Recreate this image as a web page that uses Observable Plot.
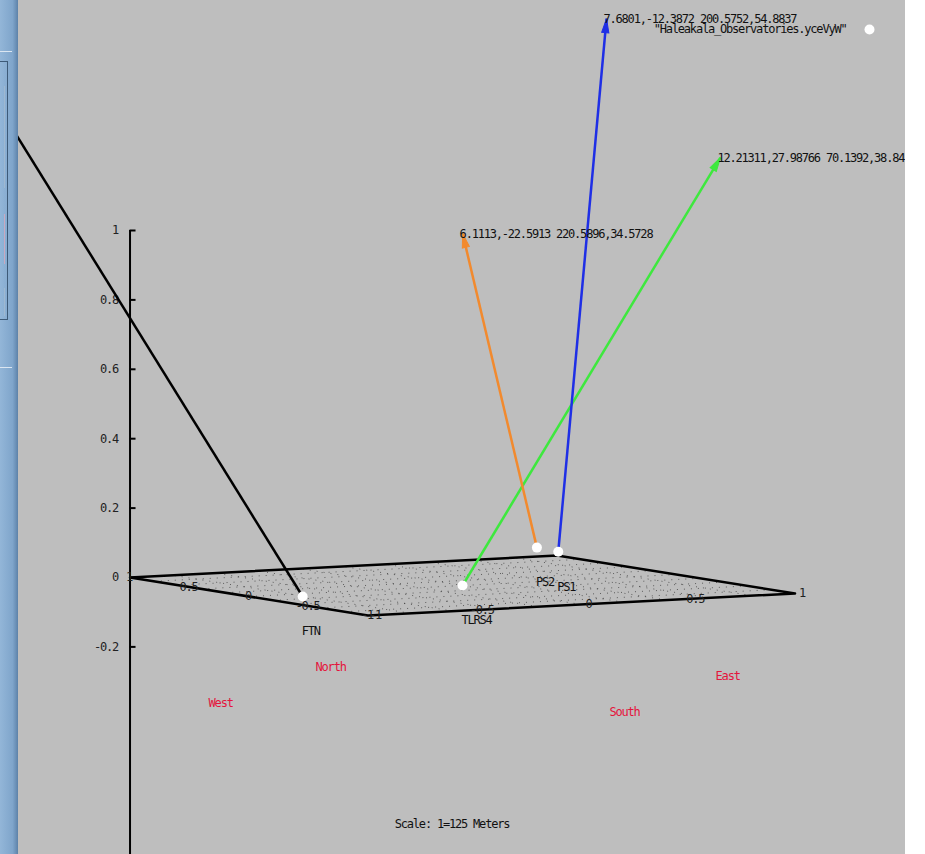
<!DOCTYPE html>
<html>
<head>
<meta charset="utf-8">
<script src="https://cdn.jsdelivr.net/npm/d3@7"></script>
<script src="https://cdn.jsdelivr.net/npm/@observablehq/plot@0.6"></script>
<style>
html, body { margin: 0; padding: 0; background: #ffffff; }
#wrap { display: flex; width: 925px; height: 854px; overflow: hidden; }
#left { width: 18px; height: 854px; position: relative; flex: none;
  background: linear-gradient(to right, #93b6d8 0%, #7fa5cb 70%, #5d82a9 100%); }
#left div { position: absolute; }
#plot { width: 887px; height: 854px; overflow: hidden; flex: none; }
#right { width: 20px; height: 854px; background: #ffffff; flex: none; }
#plot svg text { letter-spacing: -1.2px; }
</style>
</head>
<body>
<div id="wrap">
  <div id="left">
    <div style="left:0;top:51px;width:12px;height:1px;background:#dbe6f1"></div>
    <div style="left:0;top:61px;width:7px;height:257px;border:1px solid #3d5a78;border-left:none"></div>
    <div style="left:0;top:86px;width:4px;height:102px;border-right:1px solid #9fb8d0"></div>
    <div style="left:0;top:214px;width:4px;height:50px;border-right:1px solid #c9a9c0"></div>
    <div style="left:0;top:288px;width:4px;height:28px;border-right:1px solid #9fb8d0"></div>
    <div style="left:0;top:367px;width:12px;height:1px;background:#dbe6f1"></div>
  </div>
  <div id="plot"></div>
  <div id="right"></div>
</div>
<script>
// ---------- data ----------
// site positions on the 3D plot (x, y in plane units, z height)
const siteNames = ["FTN", "TLRS4", "PS2", "PS1"];
const siteX = [-0.81, 0.0, 0.85, 0.95];
const siteY = [-0.11, 0.0, 0.9, 0.9];
const siteZ = [0.0, 0.0, 0.033, 0.018];

// pointing vectors from each site (tip in 3D)
const vecSites = ["FTN", "TLRS4", "PS2", "PS1"];
const vecTipX = [-2.46, 1.208, 0.502, 1.176];
const vecTipY = [-0.11, 0.0, 0.9, 0.9];
const vecTipZ = [1.689, 1.195, 0.949, 1.547];
const vecLabels = ["", "12.21311,27.98766 70.1392,38.84", "6.1113,-22.5913 220.5896,34.5728", "7.6801,-12.3872 200.5752,54.8837"];

// compass labels (3D positions)
const dirNames = ["West", "North", "South", "East"];
const dirX = [-0.632, -0.131, 0.131, 0.628];
const dirY = [1, 1, -1, -1];
const dirZ = [-0.375, -0.287, -0.315, -0.227];

// axes ticks
const zTicks = [1, 0.8, 0.6, 0.4, 0.2, 0, -0.2];
const yEdgeTicks = [1, 0.5, 0, -0.5, -1];
const xEdgeTicks = [-1, -0.5, 0, 0.5, 1];
const gridSteps = [-0.8, -0.6, -0.4, -0.2, 0, 0.2, 0.4, 0.6, 0.8];

const legendLabel = "\"Haleakala_Observatories.yceVyW\"";
const scaleNote = "Scale: 1=125 Meters";

// ---------- projection (view of the 3D box) ----------
const proj = (x, y, z) => ({
  h: 0.9568 + 0.6153 * x - 0.3429 * y,
  v: z - 0.0231 + 0.0317 * x + 0.0548 * y
});

const W = 887, H = 854;
const xDomain = [-0.3228, 2.2334];
const yDomain = [-0.7983, 1.6628];
const pxPerUnit = W / (xDomain[1] - xDomain[0]);

const colors = {FTN: "#000000", TLRS4: "#3ee83e", PS2: "#f28a2e", PS1: "#1f2fe6"};

const sites = siteNames.map((n, i) => ({name: n, ...proj(siteX[i], siteY[i], siteZ[i])}));
const siteBy = Object.fromEntries(sites.map(d => [d.name, d]));
const vecs = vecSites.map((s, i) => {
  const t = proj(vecTipX[i], vecTipY[i], vecTipZ[i]);
  const h1 = siteBy[s].h, v1 = siteBy[s].v;
  // x and y scales share the same pixels-per-unit, so the angle carries over
  const angle = Math.atan2(t.h - h1, t.v - v1) * 180 / Math.PI;
  return {site: s, h1, v1, h2: t.h, v2: t.v, angle, label: vecLabels[i]};
});
const dirs = dirNames.map((n, i) => ({name: n, ...proj(dirX[i], dirY[i], dirZ[i])}));

const corners = [[-1, 1], [1, 1], [1, -1], [-1, -1], [-1, 1]].map(([x, y]) => proj(x, y, 0));
const grid = [];
for (const g of gridSteps) {
  const a = proj(g, -1, 0), b = proj(g, 1, 0), c = proj(-1, g, 0), d = proj(1, g, 0);
  grid.push({h1: a.h, v1: a.v, h2: b.h, v2: b.v});
  grid.push({h1: c.h, v1: c.v, h2: d.h, v2: d.v});
}
const axisBase = proj(-1, 1, 0);
const yEdge = yEdgeTicks.map(t => ({t, ...proj(-1, t, 0)}));
const xEdge = xEdgeTicks.map(t => ({t, ...proj(t, -1, 0)}));

const fmt = t => String(t);

// narrow filled arrow head, tip at the origin pointing up
const headSymbol = {
  draw(context) {
    context.moveTo(0, 0);
    context.lineTo(-3.6, 14);
    context.lineTo(3.6, 14);
    context.closePath();
  }
};

const chart = Plot.plot({
  width: W,
  height: H,
  margin: 0,
  x: {domain: xDomain, axis: null},
  y: {domain: yDomain, axis: null},
  style: {background: "#bebebe", fontFamily: "'DejaVu Sans Mono', monospace", fontSize: "12px", color: "#000"},
  marks: [
    // vertical z axis
    Plot.ruleX([axisBase.h], {y1: 1, y2: yDomain[0] - 0.1, stroke: "#000", strokeWidth: 2}),
    Plot.ruleY(zTicks, {y: d => d, x1: axisBase.h, x2: axisBase.h + 6 / pxPerUnit, stroke: "#000", strokeWidth: 2}),
    Plot.text(zTicks, {x: axisBase.h, y: d => d, text: fmt, textAnchor: "end", dx: -12, fill: "#222"}),
    // plane grid & outline
    Plot.link(grid, {x1: "h1", y1: "v1", x2: "h2", y2: "v2", stroke: "#1a1a1a", strokeWidth: 1, strokeDasharray: "1,6", strokeOpacity: 0.6}),
    Plot.line(corners, {x: "h", y: "v", stroke: "#000", strokeWidth: 2.5}),
    // plane edge tick labels
    Plot.text(yEdge, {x: "h", y: "v", text: d => fmt(d.t), textAnchor: "middle", dx: -1, fill: "#222"}),
    Plot.text(xEdge, {x: "h", y: "v", text: d => fmt(d.t), textAnchor: "middle", dx: 7, fill: "#222"}),
    // pointing vectors
    Plot.link(vecs, {x1: "h1", y1: "v1", x2: "h2", y2: "v2", stroke: d => colors[d.site], strokeWidth: 2.5, clip: true}),
    Plot.dot(vecs.filter(d => d.site !== "FTN"), {x: "h2", y: "v2", symbol: headSymbol, rotate: "angle", r: 5, fill: d => colors[d.site], stroke: d => colors[d.site], strokeWidth: 1}),
    Plot.text(vecs.filter(d => d.label), {x: "h2", y: "v2", text: "label", textAnchor: "start", dx: -3, dy: 1, fill: "#111"}),
    // sites
    Plot.dot(sites, {x: "h", y: "v", r: 5, fill: "#ffffff"}),
    Plot.text(sites, {x: "h", y: "v", text: "name", textAnchor: "start", dx: -1, dy: 35, fill: "#111"}),
    // compass labels
    Plot.text(dirs, {x: "h", y: "v", text: "name", textAnchor: "start", fill: "#e4143c"}),
    // legend
    Plot.text([legendLabel], {frameAnchor: "top-right", text: d => d, textAnchor: "end", lineAnchor: "middle", dx: -59, dy: 29, fill: "#111"}),
    Plot.dot([0], {frameAnchor: "top-right", dx: -36, dy: 29, r: 5, fill: "#ffffff"}),
    // scale note
    Plot.text([scaleNote], {frameAnchor: "bottom", text: d => d, textAnchor: "middle", lineAnchor: "middle", dx: -10, dy: -30, fill: "#111"})
  ]
});
document.getElementById("plot").appendChild(chart);
</script>
</body>
</html>
